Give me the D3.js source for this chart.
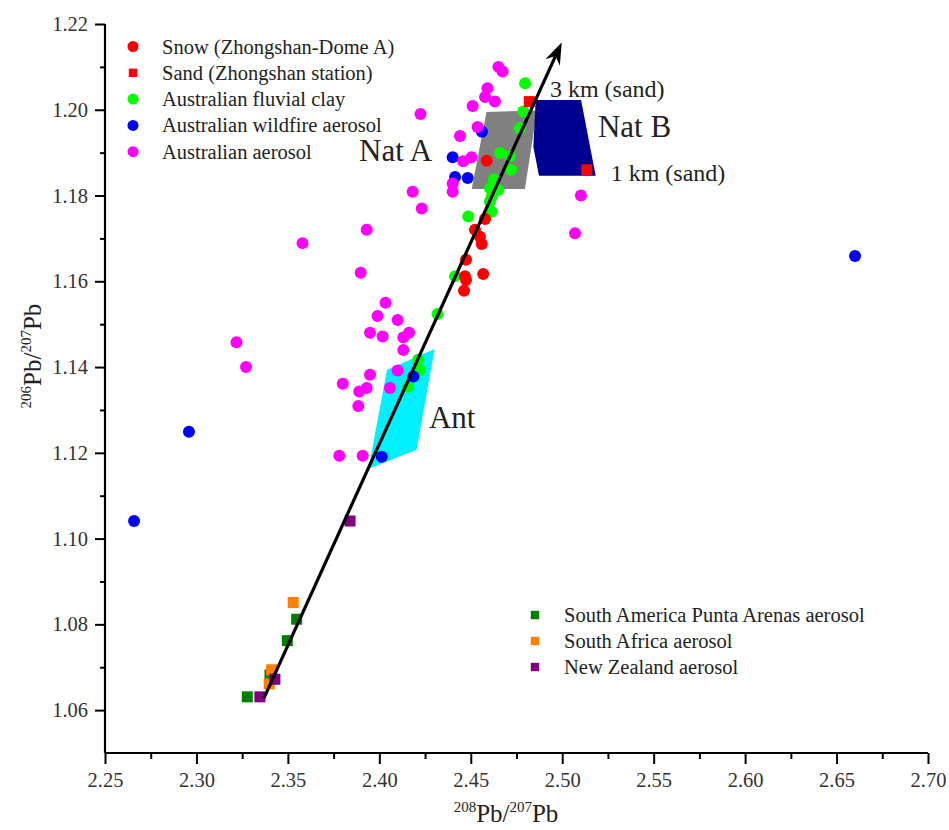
<!DOCTYPE html>
<html>
<head>
<meta charset="utf-8">
<script src="https://cdn.jsdelivr.net/npm/d3@7"></script>
<style>
  html, body { margin: 0; padding: 0; background: #fff; }
  svg { display: block; font-family: "Liberation Serif", "Times New Roman", serif; }
</style>
</head>
<body>
<svg id="chart" width="949" height="830"></svg>
<script>
// ---- Data: 208Pb/207Pb (x) versus 206Pb/207Pb (y) ----
const snow = [
  [2.4587, 1.1881], [2.4578, 1.1745], [2.4523, 1.1720], [2.4550, 1.1704],
  [2.4560, 1.1687], [2.4474, 1.1650], [2.4468, 1.1612], [2.4568, 1.1617],
  [2.4474, 1.1603], [2.4463, 1.1578]
];
const sand = [[2.4820, 1.2019], [2.5134, 1.1860]];
const fluvialClay = [
  [2.4797, 1.2062], [2.4787, 1.1996], [2.4769, 1.1957], [2.4660, 1.1899],
  [2.4714, 1.1892], [2.4720, 1.1860], [2.4627, 1.1838], [2.4605, 1.1817],
  [2.4650, 1.1813], [2.4614, 1.1797], [2.4605, 1.1786], [2.4614, 1.1762],
  [2.4486, 1.1751], [2.4414, 1.1612], [2.4318, 1.1524], [2.4213, 1.1417],
  [2.4222, 1.1393], [2.4158, 1.1354]
];
const wildfire = [
  [2.2659, 1.1041], [2.2959, 1.1249], [2.4561, 1.1949], [2.4401, 1.1889],
  [2.4414, 1.1843], [2.4483, 1.1841], [2.4186, 1.1378], [2.4013, 1.1191],
  [2.6601, 1.1659]
];
const ausAerosol = [
  [2.3219, 1.1458], [2.3271, 1.1400], [2.3580, 1.1689], [2.4651, 1.2100],
  [2.4674, 1.2089], [2.4591, 1.2050], [2.4578, 1.2030], [2.4632, 1.2019],
  [2.4510, 1.2009], [2.4225, 1.1990], [2.4537, 1.1960], [2.4441, 1.1939],
  [2.4504, 1.1889], [2.4459, 1.1880], [2.4401, 1.1828], [2.4401, 1.1809],
  [2.4182, 1.1809], [2.4232, 1.1770], [2.3931, 1.1720], [2.3898, 1.1620],
  [2.4034, 1.1550], [2.3990, 1.1519], [2.4100, 1.1510], [2.3949, 1.1480],
  [2.4018, 1.1471], [2.4163, 1.1480], [2.4131, 1.1469], [2.4131, 1.1440],
  [2.4100, 1.1392], [2.3949, 1.1382], [2.3800, 1.1361], [2.3931, 1.1351],
  [2.3890, 1.1343], [2.4058, 1.1351], [2.3885, 1.1309], [2.3781, 1.1193],
  [2.3909, 1.1193], [2.5102, 1.1800], [2.5070, 1.1712]
];
const puntaArenas = [[2.3548, 1.0812], [2.3497, 1.0762], [2.3402, 1.0682], [2.3278, 1.0631]];
const southAfrica = [[2.3529, 1.0851], [2.3411, 1.0694], [2.3398, 1.0661]];
const newZealand = [[2.3840, 1.1041], [2.3429, 1.0672], [2.3347, 1.0631]];

// Source-field polygons
const natA = [[2.4586, 1.1995], [2.4862, 1.1998], [2.4796, 1.1815], [2.4505, 1.1815]];
const natB = [[2.4855, 1.2023], [2.5103, 1.2023], [2.5183, 1.1846], [2.4873, 1.1846], [2.4842, 1.1914]];
const antField = [[2.4042, 1.1394], [2.4302, 1.1442], [2.4204, 1.1207], [2.3941, 1.1163]];

// Mixing-trend arrow
const arrowFrom = [2.3369, 1.0628];
const arrowTo = [2.4997, 1.2157];

// Axis ticks
const xMajor = [2.25, 2.30, 2.35, 2.40, 2.45, 2.50, 2.55, 2.60, 2.65, 2.70];
const xMinor = [2.275, 2.325, 2.375, 2.425, 2.475, 2.525, 2.575, 2.625, 2.675];
const yMajor = [1.06, 1.08, 1.10, 1.12, 1.14, 1.16, 1.18, 1.20, 1.22];
const yMinor = [1.07, 1.09, 1.11, 1.13, 1.15, 1.17, 1.19, 1.21];

// Legend entries
const legendTop = [
  { label: "Snow (Zhongshan-Dome A)", color: "#ff0000", shape: "circle" },
  { label: "Sand (Zhongshan station)", color: "#ff0000", shape: "square" },
  { label: "Australian fluvial clay", color: "#00ff00", shape: "circle" },
  { label: "Australian wildfire aerosol", color: "#0000ff", shape: "circle" },
  { label: "Australian aerosol", color: "#ff00ff", shape: "circle" }
];
const legendBottom = [
  { label: "South America Punta Arenas aerosol", color: "#008000" },
  { label: "South Africa aerosol", color: "#ff8000" },
  { label: "New Zealand aerosol", color: "#800080" }
];

// Text annotations anchored in data units
const notes = [
  { text: "Nat A", at: [2.3889, 1.1881], size: 31 },
  { text: "Nat B", at: [2.5195, 1.1937], size: 31 },
  { text: "Ant", at: [2.4271, 1.1259], size: 31 },
  { text: "3 km (sand)", at: [2.4933, 1.2030], size: 24 },
  { text: "1 km (sand)", at: [2.5265, 1.1834], size: 24 }
];

// ---- Drawing ----
const svg = d3.select("#chart");
const x = d3.scaleLinear().domain([2.25, 2.70]).range([105, 928]);
const y = d3.scaleLinear().domain([1.05, 1.22]).range([753, 24]);
const fmt = d3.format(".2f");
const textColor = "#222";

// Polygons
const poly = d3.line().x(d => x(d[0])).y(d => y(d[1]));
svg.append("path").attr("d", poly(natA) + "Z").attr("fill", "#808080");
svg.append("path").attr("d", poly(natB) + "Z").attr("fill", "#000090");
svg.append("path").attr("d", poly(antField) + "Z").attr("fill", "#00f0ff");

// Points
function circles(data, color) {
  svg.append("g").selectAll("circle").data(data).join("circle")
    .attr("cx", d => x(d[0])).attr("cy", d => y(d[1])).attr("r", 6)
    .attr("fill", color);
}
function squares(data, color) {
  const s = 11;
  svg.append("g").selectAll("rect").data(data).join("rect")
    .attr("x", d => x(d[0]) - s / 2).attr("y", d => y(d[1]) - s / 2)
    .attr("width", s).attr("height", s).attr("fill", color);
}
circles(fluvialClay, "#00ff00");
circles(wildfire, "#0000ff");
circles(ausAerosol, "#ff00ff");
circles(snow, "#ff0000");
squares(sand, "#ff0000");
squares(puntaArenas, "#008000");
squares(southAfrica, "#ff8000");
squares(newZealand, "#800080");

// Arrow
{
  const p0 = [x(arrowFrom[0]), y(arrowFrom[1])];
  const p1 = [x(arrowTo[0]), y(arrowTo[1])];
  const len = Math.hypot(p1[0] - p0[0], p1[1] - p0[1]);
  const u = [(p1[0] - p0[0]) / len, (p1[1] - p0[1]) / len];
  const n = [-u[1], u[0]];
  const headLen = 22, headW = 8, notch = 15;
  const inner = [p1[0] - notch * u[0], p1[1] - notch * u[1]];
  svg.append("line")
    .attr("x1", p0[0]).attr("y1", p0[1]).attr("x2", inner[0]).attr("y2", inner[1])
    .attr("stroke", "#000").attr("stroke-width", 3.2);
  const b1 = [p1[0] - headLen * u[0] + headW * n[0], p1[1] - headLen * u[1] + headW * n[1]];
  const b2 = [p1[0] - headLen * u[0] - headW * n[0], p1[1] - headLen * u[1] - headW * n[1]];
  svg.append("path")
    .attr("d", `M${p1[0]},${p1[1]}L${b1[0]},${b1[1]}L${inner[0]},${inner[1]}L${b2[0]},${b2[1]}Z`)
    .attr("fill", "#000");
}

// Annotations
svg.append("g").selectAll("text").data(notes).join("text")
  .attr("x", d => x(d.at[0])).attr("y", d => y(d.at[1]))
  .attr("font-size", d => d.size).attr("fill", textColor)
  .text(d => d.text);

// Axes
const xAxis = svg.append("g").attr("transform", "translate(0,753)")
  .call(d3.axisBottom(x).tickValues(xMajor).tickFormat(fmt).tickSize(11).tickPadding(8));
svg.append("g").attr("transform", "translate(0,753)")
  .call(d3.axisBottom(x).tickValues(xMinor).tickFormat("").tickSize(6))
  .select(".domain").remove();
const yAxis = svg.append("g").attr("transform", "translate(105,0)")
  .call(d3.axisLeft(y).tickValues(yMajor).tickFormat(fmt).tickSize(10).tickPadding(7));
svg.append("g").attr("transform", "translate(105,0)")
  .call(d3.axisLeft(y).tickValues(yMinor).tickFormat("").tickSize(5))
  .select(".domain").remove();

svg.selectAll(".domain").attr("stroke", "#000").attr("stroke-width", 2.2);
svg.selectAll(".tick line").attr("stroke", "#000").attr("stroke-width", 2);
svg.selectAll(".tick text").attr("font-family", "Liberation Serif").attr("font-size", 20.5).attr("fill", "#333");
xAxis.selectAll("path.domain").attr("d", "M105,0H928");
yAxis.selectAll("path.domain").attr("d", "M0,24V753");

// Axis titles with superscript mass numbers
function isoTitle(g, parts) {
  const t = g.append("text").attr("font-size", 25).attr("fill", textColor).attr("text-anchor", "middle");
  parts.forEach(p => {
    if (p.sup) t.append("tspan").attr("font-size", 15).attr("dy", -10).text(p.text);
    else t.append("tspan").attr("dy", p.after ? 10 : 0).text(p.text);
  });
  return t;
}
const titleParts = (a) => [
  { text: a, sup: true }, { text: "Pb/", after: true },
  { text: "207", sup: true }, { text: "Pb", after: true }
];
isoTitle(svg.append("g").attr("transform", "translate(506,822)"), titleParts("208"));
isoTitle(svg.append("g").attr("transform", "translate(41,356) rotate(-90)"), titleParts("206"));

// Legends
function legend(items, mx, top, step, tx) {
  const g = svg.append("g");
  items.forEach((d, i) => {
    const cy = top + i * step;
    if (d.shape === "circle") {
      g.append("circle").attr("cx", mx).attr("cy", cy).attr("r", 5.5).attr("fill", d.color);
    } else {
      g.append("rect").attr("x", mx - 4.2).attr("y", cy - 4.2).attr("width", 8.4).attr("height", 8.4).attr("fill", d.color);
    }
    g.append("text").attr("x", tx).attr("y", cy + 7).attr("font-size", 20.5).attr("fill", textColor).text(d.label);
  });
}
legend(legendTop, 133, 46.5, 26.3, 162);
legend(legendBottom.map(d => ({ ...d, shape: "square" })), 535, 615, 26, 564);
</script>
</body>
</html>
